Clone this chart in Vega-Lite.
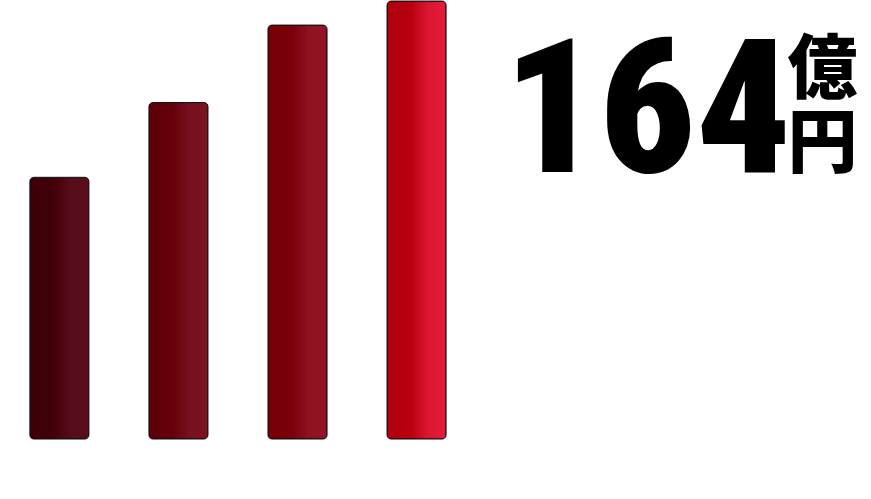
{
  "$schema": "https://vega.github.io/schema/vega-lite/v6.json",
  "width": 871,
  "height": 499,
  "autosize": {"type": "fit", "contains": "padding"},
  "padding": {"left": 0, "top": 0, "right": 0, "bottom": 59},
  "background": "white",
  "config": {"view": {"stroke": null}},
  "data": {"values": [
    {"period": "P1", "value": 98},
    {"period": "P2", "value": 126},
    {"period": "P3", "value": 155},
    {"period": "P4", "value": 164}
  ]},
  "encoding": {
    "x": {"field": "period", "type": "nominal", "axis": null,
          "scale": {"domain": ["P1", "P2", "P3", "P4", "P5", "P6", "P7"],
                    "paddingInner": 0.504, "paddingOuter": 0.41, "align": 0.306}},
    "y": {"field": "value", "type": "quantitative", "axis": null,
          "scale": {"domain": [0, 164.4], "nice": false}}
  },
  "layer": [
    {"transform": [{"filter": "datum.period === 'P1'"}],
     "mark": {"type": "bar", "cornerRadius": 4, "stroke": "#111111", "strokeWidth": 1,
              "fill": {"gradient": "linear", "x1": 0, "y1": 0, "x2": 1, "y2": 0, "stops": [
                {"offset": 0, "color": "#3d0008"}, {"offset": 0.4, "color": "#420009"},
                {"offset": 0.68, "color": "#560c19"}, {"offset": 1, "color": "#5a0e1c"}]}}},
    {"transform": [{"filter": "datum.period === 'P2'"}],
     "mark": {"type": "bar", "cornerRadius": 4, "stroke": "#111111", "strokeWidth": 1,
              "fill": {"gradient": "linear", "x1": 0, "y1": 0, "x2": 1, "y2": 0, "stops": [
                {"offset": 0, "color": "#5e0009"}, {"offset": 0.4, "color": "#650009"},
                {"offset": 0.68, "color": "#771020"}, {"offset": 1, "color": "#7c1222"}]}}},
    {"transform": [{"filter": "datum.period === 'P3'"}],
     "mark": {"type": "bar", "cornerRadius": 4, "stroke": "#111111", "strokeWidth": 1,
              "fill": {"gradient": "linear", "x1": 0, "y1": 0, "x2": 1, "y2": 0, "stops": [
                {"offset": 0, "color": "#760007"}, {"offset": 0.4, "color": "#7c0008"},
                {"offset": 0.68, "color": "#8d1222"}, {"offset": 1, "color": "#931525"}]}}},
    {"transform": [{"filter": "datum.period === 'P4'"}],
     "mark": {"type": "bar", "cornerRadius": 4, "stroke": "#111111", "strokeWidth": 1,
              "fill": {"gradient": "linear", "x1": 0, "y1": 0, "x2": 1, "y2": 0, "stops": [
                {"offset": 0, "color": "#b0000c"}, {"offset": 0.4, "color": "#b8000e"},
                {"offset": 0.7, "color": "#dc1632"}, {"offset": 1, "color": "#e31c3a"}]}}},
    {"transform": [{"filter": "datum.period === 'P4'"}],
     "mark": {"type": "text", "font": "'Roboto Condensed', 'Noto Sans Condensed', 'DejaVu Sans Condensed', Roboto, sans-serif", "fontWeight": 900,
              "fontSize": 188, "align": "center", "baseline": "alphabetic",
              "dx": 231, "dy": 171, "color": "#000000"},
     "encoding": {"text": {"field": "value", "type": "quantitative"}}},
    {"transform": [{"filter": "datum.period === 'P4'"}],
     "mark": {"type": "text", "font": "Noto Sans CJK JP", "fontWeight": 900,
              "fontSize": 70, "align": "center", "baseline": "alphabetic",
              "dx": 406, "dy": 92, "color": "#000000"},
     "encoding": {"text": {"value": "億"}}},
    {"transform": [{"filter": "datum.period === 'P4'"}],
     "mark": {"type": "text", "font": "Noto Sans CJK JP", "fontWeight": 900,
              "fontSize": 70, "align": "center", "baseline": "alphabetic",
              "dx": 406, "dy": 166, "color": "#000000"},
     "encoding": {"text": {"value": "円"}}}
  ]
}
